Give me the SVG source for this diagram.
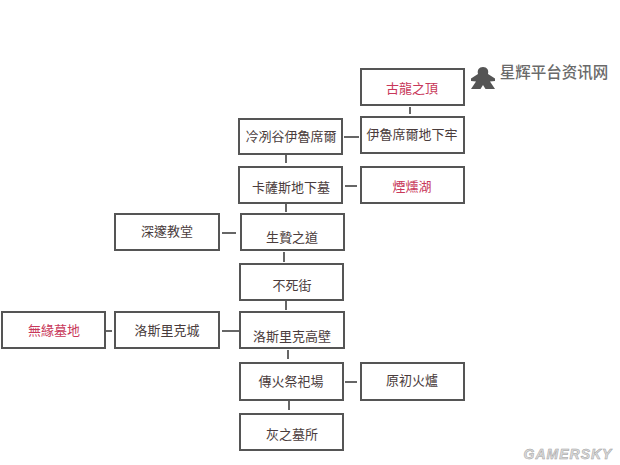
<svg xmlns="http://www.w3.org/2000/svg" width="620" height="465" viewBox="0 0 620 465">
<style>
.n{fill:#fff;stroke:#555;stroke-width:2}
.c{stroke:#666;stroke-width:2;fill:none}
text{font-family:"Noto Sans CJK TC","Noto Sans CJK SC",sans-serif;font-size:13px;text-anchor:middle;fill:#4a3c3c}
text.r{fill:#c8385a}
</style>
<rect width="620" height="465" fill="#fff"/>
<g id="connectors">
<path class="c" d="M410 107V114M344 137H359M286 155V163M345 186H357M286 204V212M222 233H236M284 252V262M286 301V310M106 331H112M222 331H240M288 350V359M345 382H357M289 401V410"/>
</g>
<g id="n-gulong"><rect class="n" x="361" y="69" width="103" height="36"/><text class="r" x="412" y="93">古龍之頂</text></g>
<g id="n-dungeon"><rect class="n" x="361" y="117" width="103" height="36"/><text x="412" y="139">伊魯席爾地下牢</text></g>
<g id="n-irithyll"><rect class="n" x="239" y="119" width="103" height="35"/><text x="291" y="141">冷冽谷伊魯席爾</text></g>
<g id="n-catacombs"><rect class="n" x="239" y="167" width="103" height="36"/><text x="291" y="192">卡薩斯地下墓</text></g>
<g id="n-smoulder"><rect class="n" x="361" y="167" width="103" height="36"/><text class="r" x="412" y="191">煙燻湖</text></g>
<g id="n-cathedral"><rect class="n" x="115" y="214" width="104" height="36"/><text x="167" y="236">深邃教堂</text></g>
<g id="n-sacrifice"><rect class="n" x="241" y="214" width="103" height="36"/><text x="292" y="242">生贄之道</text></g>
<g id="n-undead"><rect class="n" x="240" y="264" width="103" height="36"/><text x="292" y="290">不死街</text></g>
<g id="n-wall"><rect class="n" x="240" y="312" width="104" height="36"/><text x="292" y="341">洛斯里克高壁</text></g>
<g id="n-castle"><rect class="n" x="115" y="312" width="104" height="36"/><text x="167" y="335">洛斯里克城</text></g>
<g id="n-unkindled"><rect class="n" x="2" y="312" width="103" height="36"/><text class="r" x="54" y="335">無緣墓地</text></g>
<g id="n-shrine"><rect class="n" x="240" y="363" width="103" height="37"/><text x="291" y="386">傳火祭祀場</text></g>
<g id="n-kiln"><rect class="n" x="361" y="363" width="103" height="37"/><text x="412" y="385">原初火爐</text></g>
<g id="n-ash"><rect class="n" x="240" y="414" width="103" height="36"/><text x="292" y="439">灰之墓所</text></g>
<path fill="#555" d="M483 67C487 67 489 70 488 74L495 78.500V81L490 81.500L495 89H485.500L483 85L480.500 89H471L476 81.500L471 81V78.500L478 74C477 70 479 67 483 67Z"/>
<text x="554" y="78" style="font-size:15.500px;fill:#6a6a6a;font-weight:500">星辉平台资讯网</text>
<text x="568" y="459" style="font-family:'Liberation Sans',sans-serif;font-size:14px;font-style:italic;font-weight:700;fill:#dcdcdc;stroke:#a0a0a0;stroke-width:.5;letter-spacing:1px">GAMERSKY</text>
</svg>
